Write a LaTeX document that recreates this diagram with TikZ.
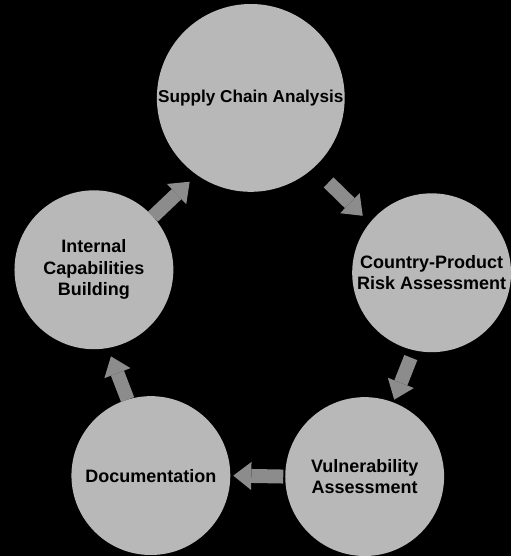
\documentclass[tikz,border=0pt]{standalone}
\usepackage{fontspec}
\setmainfont{Liberation Sans}
\usetikzlibrary{arrows.meta}
\definecolor{stagegray}{gray}{0.72}
\definecolor{flowgray}{gray}{0.55}

\begin{document}
\begin{tikzpicture}[x=1pt,y=-1pt,
	stage/.style={circle,fill=stagegray,inner sep=0pt,outer sep=0pt,minimum size=159pt,
		align=center,font=\bfseries\fontsize{18}{21.5}\selectfont},
	flow/.style={draw=flowgray,line width=14pt,-{Triangle[width=28pt,length=18pt,line width=0pt]}}]

\fill[black] (0,0) rectangle (511,556);

% the five steps of the cycle
\node[stage,minimum size=188pt,font=\bfseries\fontsize{17.2}{21.5}\selectfont] (SCA) at (251,98) {Supply Chain Analysis};
\node[stage] (CPR) at (432,273) {Country-Product\\Risk Assessment};
\node[stage] (VA) at (365,477) {Vulnerability\\Assessment};
\node[stage] (DOC) at (151,476) {Documentation};
\node[stage] (ICB) at (94,270) {Internal\\Capabilities\\Building};

% arrows between them
\foreach \from/\to/\sa/\sb in {SCA.312/CPR.141/21/10, CPR.257/VA.69/8/3, VA.180/DOC.0/2/3,
	DOC.107/ICB.280/0/9, ICB.42/SCA.235/0/10}
	{
	\draw[flow,shorten <=\sa pt,shorten >=\sb pt] (\from) -- (\to);
	}
\end{tikzpicture}
\end{document}
